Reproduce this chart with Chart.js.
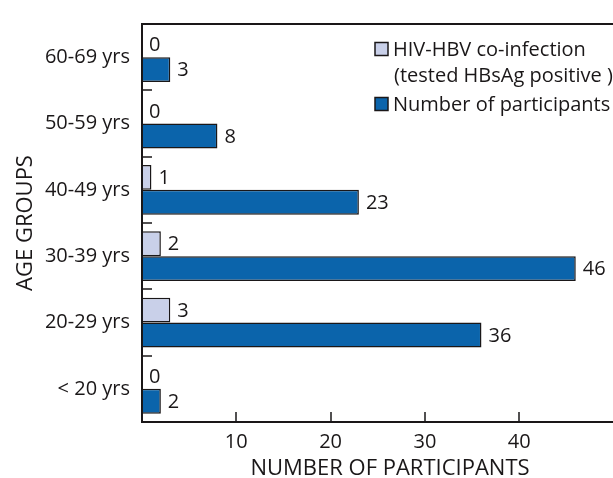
<!DOCTYPE html>
<html lang="en">

<head>
    <meta charset="UTF-8">
    <title>Age groups chart</title>
    <style>
        body {
            margin: 0;
            background: #fff;
        }

        /* the figure is cut at the right, the frame runs on past the edge */
        .chart-box {
            width: 613px;
            height: 478px;
            overflow: hidden;
        }
    </style>
    <script src="https://cdn.jsdelivr.net/npm/chart.js"></script>
</head>

<body>

    <div class="chart-box">
        <canvas id="ageChart" width="638" height="478"></canvas>
    </div>

    <script>
        const ageGroups = ['60-69 yrs', '50-59 yrs', '40-49 yrs', '30-39 yrs', '20-29 yrs', '< 20 yrs'];
        const coInfection = [0, 0, 1, 2, 3, 0];
        const participants = [3, 8, 23, 46, 36, 2];
        const xTicksShown = [10, 20, 30, 40];
        const legendNames = [['HIV-HBV co-infection', '(tested HBsAg positive )'], ['Number of participants']];

        const ink = '#1a1718';
        const fontName = "'Open Sans', sans-serif";

        // value labels, frame, inside ticks and the legend
        const extras = {
            id: 'extras',
            afterDatasetsDraw(chart) {
                const ctx = chart.ctx;
                const area = chart.chartArea;
                const xs = chart.scales.x;
                const ys = chart.scales.y;
                ctx.save();

                // numbers next to bars
                ctx.font = '20px ' + fontName;
                ctx.fillStyle = ink;
                ctx.textBaseline = 'middle';
                ctx.textAlign = 'left';
                chart.data.datasets.forEach((ds, i) => {
                    chart.getDatasetMeta(i).data.forEach((bar, j) => {
                        ctx.fillText(String(ds.data[j]), bar.x + 7, bar.y + 1);
                    });
                });

                // frame: top, left, bottom
                ctx.strokeStyle = ink;
                ctx.lineWidth = 2;
                ctx.beginPath();
                ctx.moveTo(area.right + 2, area.top);
                ctx.lineTo(area.left, area.top);
                ctx.lineTo(area.left, area.bottom);
                ctx.lineTo(area.right + 2, area.bottom);
                ctx.stroke();

                // inside ticks
                ctx.lineWidth = 1.5;
                ctx.beginPath();
                xTicksShown.forEach(v => {
                    const px = Math.round(xs.getPixelForValue(v));
                    ctx.moveTo(px, area.bottom);
                    ctx.lineTo(px, area.bottom - 10);
                });
                const step = ys.getPixelForValue(1) - ys.getPixelForValue(0);
                for (let i = 1; i < ageGroups.length; i++) {
                    const py = Math.round(ys.getPixelForValue(i) - step / 2);
                    ctx.moveTo(area.left, py);
                    ctx.lineTo(area.left + 10, py);
                }
                ctx.stroke();

                // legend
                const bx = 375;
                const rows = [49, 104];
                chart.data.datasets.forEach((ds, i) => {
                    const cy = rows[i];
                    ctx.fillStyle = ds.backgroundColor;
                    ctx.fillRect(bx, cy - 6.5, 13, 13);
                    ctx.lineWidth = 1.5;
                    ctx.strokeStyle = ink;
                    ctx.strokeRect(bx, cy - 6.5, 13, 13);
                    ctx.fillStyle = ink;
                    legendNames[i].forEach((line, k) => {
                        ctx.fillText(line, bx + 18 + (k ? 1 : 0), cy + 1 + k * 26);
                    });
                });
                ctx.restore();
            }
        };

        new Chart(document.getElementById('ageChart'), {
            type: 'bar',
            data: {
                labels: ageGroups,
                datasets: [{
                    label: 'HIV-HBV co-infection (tested HBsAg positive )',
                    data: coInfection,
                    backgroundColor: '#c9d0e9',
                    borderColor: ink,
                    borderWidth: 1.5,
                    borderSkipped: 'start'
                }, {
                    label: 'Number of participants',
                    data: participants,
                    backgroundColor: '#0b64ab',
                    borderColor: ink,
                    borderWidth: 1.5,
                    borderSkipped: 'start'
                }]
            },
            options: {
                indexAxis: 'y',
                responsive: false,
                animation: false,
                layout: { padding: { top: 21, right: 0, left: 0, bottom: 0 } },
                datasets: {
                    bar: { categoryPercentage: 0.75, barPercentage: 1 }
                },
                plugins: {
                    legend: { display: false },
                    tooltip: { enabled: false }
                },
                scales: {
                    x: {
                        min: 0,
                        max: 52.6,
                        grid: { display: false, drawTicks: false },
                        border: { display: false },
                        ticks: {
                            stepSize: 10,
                            padding: 8,
                            color: ink,
                            font: { family: fontName, size: 20 },
                            callback: v => xTicksShown.includes(v) ? v : ''
                        },
                        title: {
                            display: true,
                            text: 'NUMBER OF PARTICIPANTS',
                            color: ink,
                            padding: { top: 0, bottom: -4 },
                            font: { family: fontName, size: 22 }
                        },
                        afterFit: s => {
                            s.height = 56;
                            s.paddingLeft = 0;
                            s.paddingRight = 0;
                        }
                    },
                    y: {
                        grid: { display: false, drawTicks: false },
                        border: { display: false },
                        ticks: {
                            padding: 12,
                            color: ink,
                            font: { family: fontName, size: 20 }
                        },
                        title: {
                            display: true,
                            text: 'AGE GROUPS',
                            color: ink,
                            padding: { top: 13, bottom: 0 },
                            font: { family: fontName, size: 22 }
                        },
                        afterFit: s => { s.width = 142; }
                    }
                }
            },
            plugins: [extras]
        });
    </script>

</body>

</html>
